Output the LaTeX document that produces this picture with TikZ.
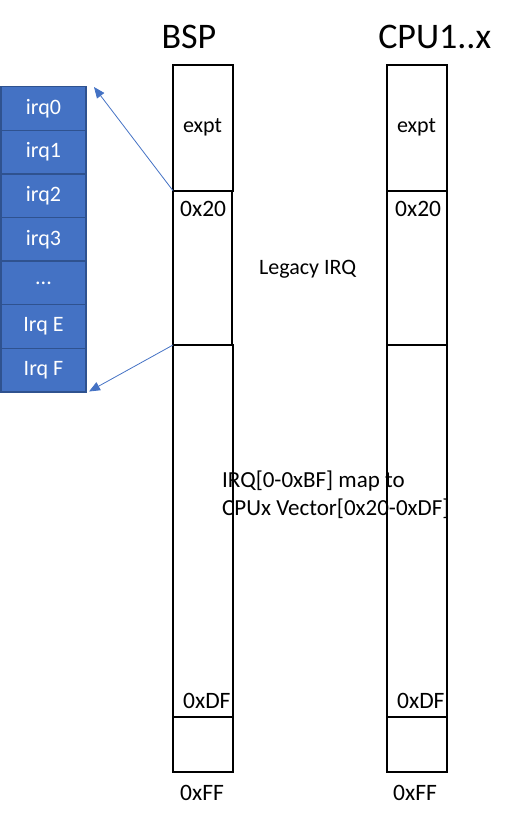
\documentclass[tikz,border=0pt]{standalone}
\usepackage{fontspec}
\setmainfont{Carlito}
\usetikzlibrary{arrows.meta}
\definecolor{irqfill}{HTML}{4472C4}
\definecolor{irqedge}{HTML}{2F528F}
\definecolor{arrowblue}{HTML}{4472C4}
\begin{document}
\begin{tikzpicture}[x=1pt,y=-1pt,
  lbl/.style={font=\fontsize{22}{26}\selectfont, inner sep=0pt},
  hexlbl/.style={font=\fontsize{23.5}{28}\selectfont, inner sep=0pt, anchor=base west},
  maplbl/.style={font=\fontsize{23}{28}\selectfont, inner sep=0pt, anchor=base west},
  title/.style={font=\fontsize{36}{42}\selectfont, inner sep=0pt, anchor=base},
  seg/.style={draw=black, line width=1.6pt, inner sep=0pt, outer sep=0pt, minimum width=60pt, anchor=north west},
  irqbox/.style={draw=irqedge, fill=irqfill, line width=1.4pt, text=white, font=\fontsize{22}{26}\selectfont, inner sep=0pt, outer sep=0pt, minimum width=85pt, minimum height=43.6pt, anchor=north west},
  link/.style={draw=arrowblue, line width=0.8pt, -{Triangle[length=11pt,width=9pt]}}
]
\useasboundingbox (0,0) rectangle (518,820);
% irq stack
\node[irqbox] (q0) at (1,86.7) {irq0};
\node[irqbox] (q1) at (1,130.3) {irq1};
\node[irqbox] (q2) at (1,173.9) {irq2};
\node[irqbox] (q3) at (1,217.5) {irq3};
\node[irqbox] (q4) at (1,261.1) {...};
\node[irqbox] (q5) at (1,304.7) {Irq E};
\node[irqbox] (q6) at (1,348.3) {Irq F};
% text under column lines
\node[maplbl] (maptxt1) at (222,487.5) {IRQ[0-0xBF] map to};
\node[maplbl] (maptxt2) at (222,515.5) {CPUx Vector[0x20-0xDF]};
% BSP column
\node[seg, minimum height=125.7pt] (b1) at (173,65) {};
\node[seg, minimum height=154.3pt, minimum width=59pt] (b2) at (173,190.7) {};
\node[seg, minimum height=372pt] (b3) at (173,345) {};
\node[seg, minimum height=54.5pt] (b4) at (173,717.2) {};
% CPU column
\node[seg, minimum height=125.7pt] (c1) at (387,65) {};
\node[seg, minimum height=154.3pt] (c2) at (387,190.7) {};
\node[seg, minimum height=372pt] (c3) at (387,345) {};
\node[seg, minimum height=54.5pt] (c4) at (387,717.2) {};
% titles
\node[title] (tbsp) at (189,48.5) {BSP};
\node[title] (tcpu) at (434.7,48.5) {CPU1..x};
% labels
\node[lbl, anchor=base] (bexpt) at (202.5,132) {expt};
\node[lbl, anchor=base] (cexpt) at (416.5,132) {expt};
\node[hexlbl] (b20) at (180,216) {0x20};
\node[hexlbl] (c20) at (395,216) {0x20};
\node[lbl, anchor=base west] (legacy) at (259,274.5) {Legacy IRQ};
\node[hexlbl] (bdf) at (183,708) {0xDF};
\node[hexlbl] (cdf) at (397,708) {0xDF};
\node[hexlbl] (bff) at (180,800) {0xFF};
\node[hexlbl] (cff) at (393,800) {0xFF};
% arrows
\coordinate (tip0) at (94,87);
\coordinate (tipF) at (89,391.5);
\draw[link] (b2.north west) -- (tip0);
\draw[link] (b3.north west) -- (tipF);
\end{tikzpicture}
\end{document}
